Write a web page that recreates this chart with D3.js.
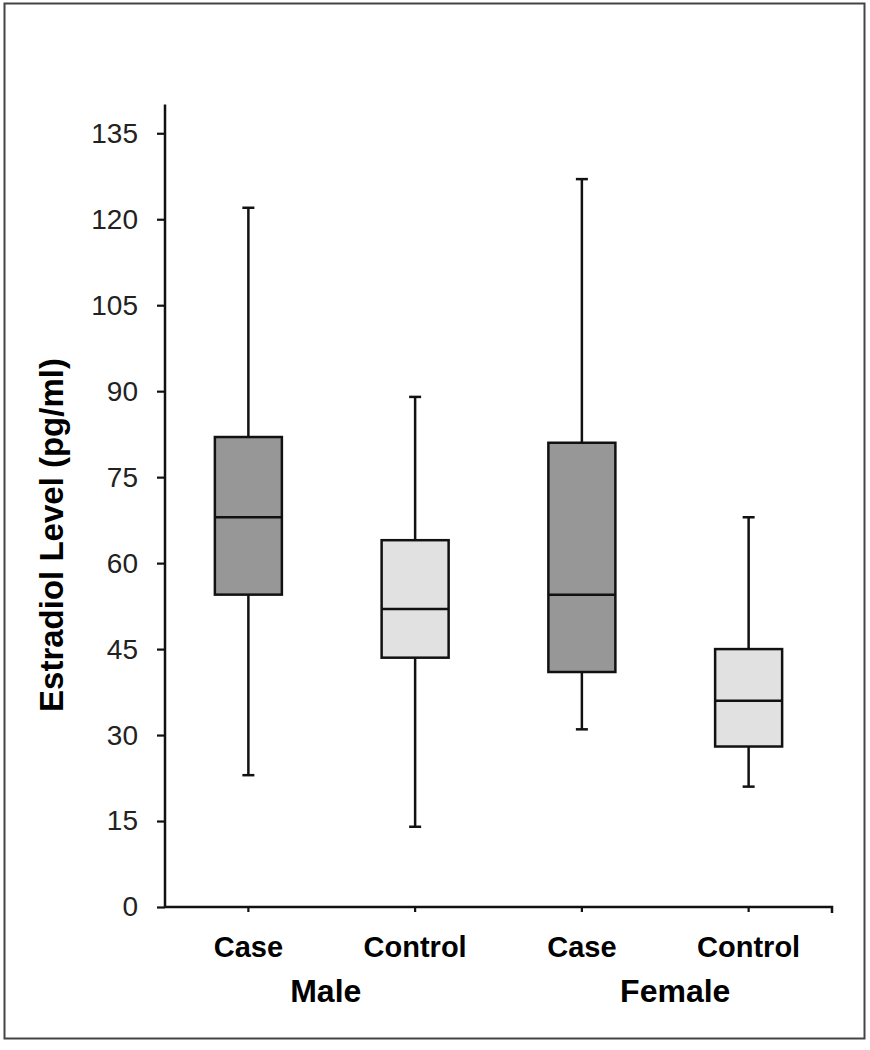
<!DOCTYPE html>
<html>
<head>
<meta charset="utf-8">
<script src="https://cdn.jsdelivr.net/npm/d3@7"></script>
<style>
html,body{margin:0;padding:0;background:#fff;}
svg{display:block;}
</style>
</head>
<body>
<svg id="chart" width="870" height="1050"></svg>
<script>
const categories = ["Case", "Control", "Case", "Control"];
const groups = ["Male", "Male", "Female", "Female"];
const groupNames = ["Male", "Female"];
const whiskerLow = [23, 14, 31, 21];
const q1 = [54.5, 43.5, 41, 28];
const median = [68, 52, 54.5, 36];
const q3 = [82, 64, 81, 45];
const whiskerHigh = [122, 89, 127, 68];
const fillKind = ["case", "control", "case", "control"];
const yTicks = [0, 15, 30, 45, 60, 75, 90, 105, 120, 135];
const yTitle = "Estradiol Level (pg/ml)";

(function () {
const svg = d3.select("#chart");
const font = "'Liberation Sans', Arial, sans-serif";
const ink = "#111";

// outer frame
svg.append("rect").attr("x", 4.5).attr("y", 3.5).attr("width", 860).attr("height", 1035)
  .attr("fill", "none").attr("stroke", "#444").attr("stroke-width", 2);

const pLeft = 165, pRight = 832, pTop = 105, pBottom = 907;
const y = d3.scaleLinear().domain([0, 140]).range([pBottom, pTop - 0.4]);
const x = d3.scaleBand().domain(d3.range(categories.length)).range([pLeft, pRight]).paddingInner(0).paddingOuter(0);
const cx = i => x(i) + x.bandwidth() / 2;
const boxW = 67, capW = 12;
const fills = {case: "#979797", control: "#e1e1e1"};

// y axis
const yAxis = d3.axisLeft(y).tickValues(yTicks).tickSize(8).tickSizeOuter(0).tickPadding(19);
const gy = svg.append("g").attr("transform", `translate(${pLeft},0)`).call(yAxis);
gy.select(".domain").remove();
gy.selectAll(".tick line").attr("stroke", ink).attr("stroke-width", 2.2);
gy.selectAll(".tick text").attr("font-family", font).attr("font-size", 28).attr("fill", "#222");
svg.append("line").attr("x1", pLeft).attr("x2", pLeft).attr("y1", y(140)).attr("y2", pBottom)
  .attr("stroke", ink).attr("stroke-width", 2.5);

// x axis
const xAxis = d3.axisBottom(x).tickSize(5).tickSizeOuter(5).tickFormat(i => categories[i]).tickPadding(24);
const gx = svg.append("g").attr("transform", `translate(0,${pBottom})`).call(xAxis);
gx.select(".domain").attr("stroke", ink).attr("stroke-width", 2.5)
  .attr("d", `M${pLeft},0H${pRight}V6`);
gx.selectAll(".tick line").attr("stroke", ink).attr("stroke-width", 2.2);
gx.selectAll(".tick text").attr("font-family", font).attr("font-size", 29).attr("font-weight", "bold")
  .attr("fill", "#000").attr("dy", "0.71em");

// group labels
groupNames.forEach((g, k) => {
  const idx = d3.range(groups.length).filter(i => groups[i] === g);
  const c = d3.mean(idx, cx) + (k === 0 ? -6 : 10);
  svg.append("text").attr("x", c).attr("y", 1002).attr("text-anchor", "middle")
    .attr("font-family", font).attr("font-size", 32).attr("font-weight", "bold").attr("fill", "#000")
    .text(g);
});

// y title
svg.append("text").attr("transform", `translate(63,535) rotate(-90)`)
  .attr("text-anchor", "middle").attr("font-family", font).attr("font-size", 33).attr("font-weight", "bold")
  .attr("fill", "#000").text(yTitle);

// boxes
const boxes = svg.append("g");
categories.forEach((c, i) => {
  const g = boxes.append("g");
  const xc = cx(i);
  g.append("line").attr("x1", xc).attr("x2", xc).attr("y1", y(whiskerHigh[i])).attr("y2", y(q3[i]))
    .attr("stroke", ink).attr("stroke-width", 2.5);
  g.append("line").attr("x1", xc).attr("x2", xc).attr("y1", y(q1[i])).attr("y2", y(whiskerLow[i]))
    .attr("stroke", ink).attr("stroke-width", 2.5);
  [whiskerHigh[i], whiskerLow[i]].forEach(v => {
    g.append("line").attr("x1", xc - capW / 2).attr("x2", xc + capW / 2).attr("y1", y(v)).attr("y2", y(v))
      .attr("stroke", ink).attr("stroke-width", 2.5);
  });
  g.append("rect").attr("x", xc - boxW / 2).attr("y", y(q3[i])).attr("width", boxW)
    .attr("height", y(q1[i]) - y(q3[i])).attr("fill", fills[fillKind[i]])
    .attr("stroke", ink).attr("stroke-width", 2.5);
  g.append("line").attr("x1", xc - boxW / 2).attr("x2", xc + boxW / 2).attr("y1", y(median[i])).attr("y2", y(median[i]))
    .attr("stroke", ink).attr("stroke-width", 2.5);
});
})();
</script>
</body>
</html>
